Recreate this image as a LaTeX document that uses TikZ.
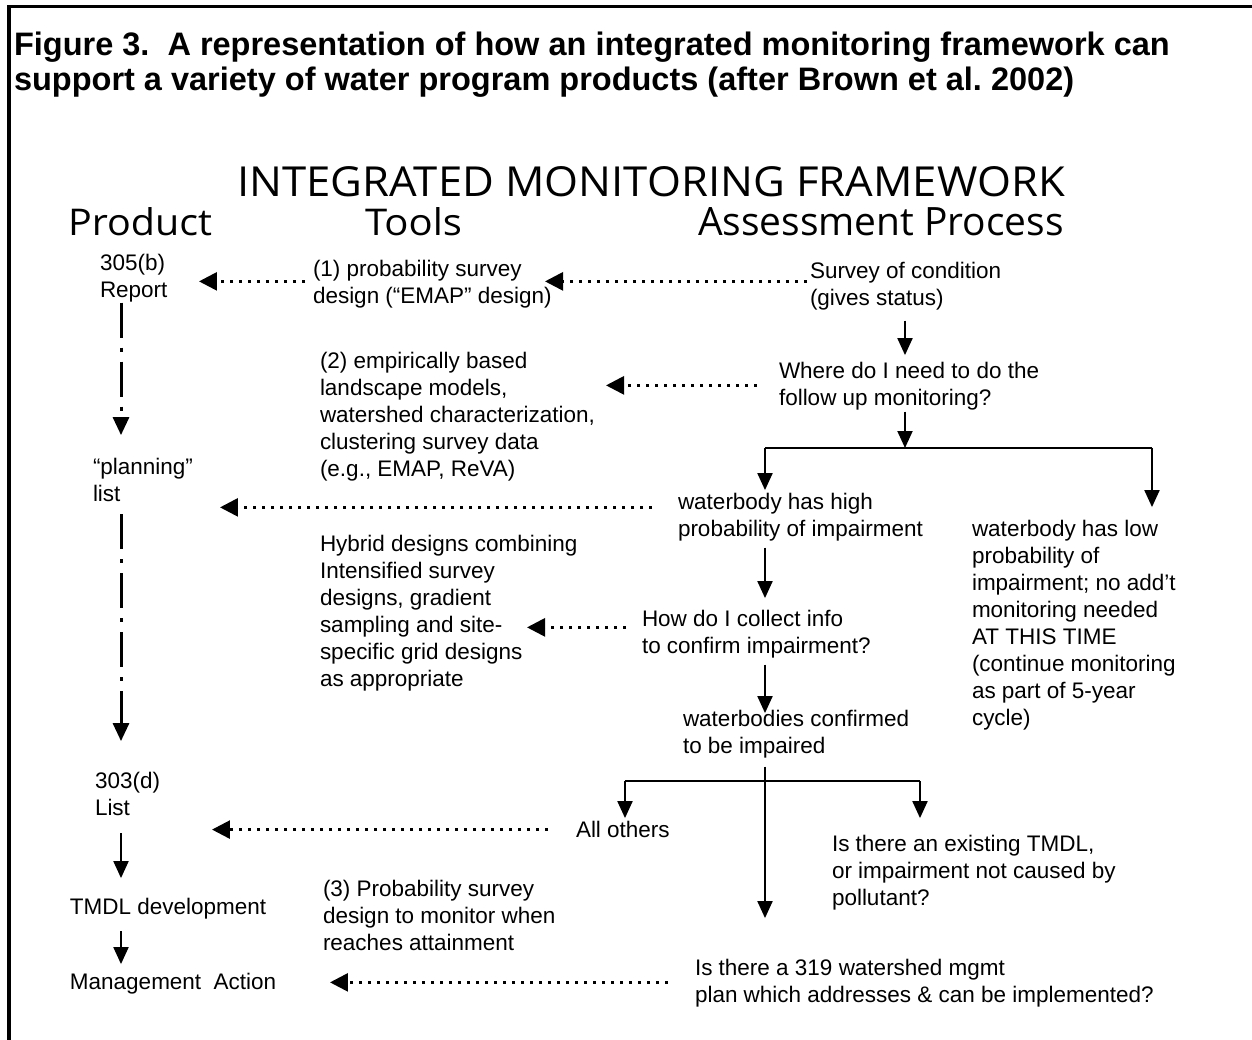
\documentclass[tikz,border=0pt]{standalone}
\usepackage{fontspec}
\usepackage{graphicx}
\setmainfont{Liberation Sans}
\newfontfamily\headfont{Open Sans}
\usetikzlibrary{arrows.meta,calc}
\frenchspacing
\begin{document}
\begin{tikzpicture}[x=0.02cm,y=-0.02cm,
  txt/.style={anchor=north west,inner sep=0pt,outer sep=0pt,align=left,
    font=\fontsize{12.8pt}{15.36pt}\selectfont,yshift=0.378cm},
  ttlstyle/.style={anchor=north west,inner sep=0pt,outer sep=0pt,align=left,
    font=\fontsize{18.5pt}{19.9pt}\selectfont\bfseries,yshift=0.49cm},
  head/.style={anchor=base west,inner sep=0pt,outer sep=0pt},
  arr/.style={line width=0.04cm,-{Triangle[width=0.3cm,length=0.34cm]}},
  ln/.style={line width=0.04cm},
  dotarr/.style={line width=0.055cm,dash pattern=on 0.055cm off 0.125cm,
    -{Triangle[width=0.36cm,length=0.36cm]}},
  dd/.style={line width=0.06cm,dash pattern=on 0.7cm off 0.2cm on 0.08cm off 0.2cm,
    -{Triangle[width=0.32cm,length=0.36cm]}}]
\fill[white] (0,0) rectangle (1252,1040);
\path[use as bounding box] (0,0) rectangle (1252,1040);
% frame
\draw[line width=0.07cm] (9,1040) -- (9,6.5) -- (1252,6.5);
% title
\node[ttlstyle] (title) at (14,56) {\strut Figure 3.\ \ A representation of how an integrated monitoring framework can\\support a variety of water program products (after Brown et al. 2002)};
% headings
\node[head] (imf) at (237,197) {\resizebox{16.56cm}{0.6cm}{\headfont INTEGRATED MONITORING FRAMEWORK}};
\node[head] (hprod) at (68,236) {\resizebox{2.88cm}{0.56cm}{\headfont Product}};
\node[head] (htools) at (365,236) {\resizebox{1.94cm}{0.56cm}{\headfont Tools}};
\node[head] (hass) at (698,236) {\resizebox{7.32cm}{0.56cm}{\headfont Assessment Process}};
% product column
\node[txt] (p305) at (100,271) {\strut 305(b)\\Report};
\node[txt] (plan) at (93,475) {\strut “planning”\\list};
\node[txt] (p303) at (95,789) {\strut 303(d)\\List};
\node[txt] (tmdl) at (70,915) {\strut TMDL development};
\node[txt] (mgmt) at (70,990) {\strut Management~~Action};
% tools column
\node[txt] (t1) at (313,277) {\strut (1) probability survey\\design (“EMAP” design)};
\node[txt] (t2) at (320,369) {\strut (2) empirically based\\landscape models,\\watershed characterization,\\clustering survey data\\(e.g., EMAP, ReVA)};
\node[txt] (hyb) at (320,552) {\strut Hybrid designs combining\\Intensified survey\\designs, gradient\\sampling and site-\\specific grid designs\\as appropriate};
\node[txt] (t3) at (323,897) {\strut (3) Probability survey\\design to monitor when\\reaches attainment};
% assessment column
\node[txt] (surv) at (810,279) {\strut Survey of condition\\(gives status)};
\node[txt] (where) at (779,379) {\strut Where do I need to do the\\follow up monitoring?};
\node[txt] (high) at (678,510) {\strut waterbody has high\\probability of impairment};
\node[txt] (low) at (972,537) {\strut waterbody has low\\probability of\\impairment; no add’t\\monitoring needed\\AT THIS TIME\\(continue monitoring\\as part of 5-year\\cycle)};
\node[txt] (how) at (642,627) {\strut How do I collect info\\to confirm impairment?};
\node[txt] (conf) at (683,727) {\strut waterbodies confirmed\\to be impaired};
\node[txt] (others) at (576,838) {\strut All others};
\node[txt] (tmdlq) at (832,852) {\strut Is there an existing TMDL,\\or impairment not caused by\\pollutant?};
\node[txt] (q319) at (695,976) {\strut Is there a 319 watershed mgmt\\plan which addresses \& can be implemented?};
% junction points
\coordinate (sp) at (905,448);
\coordinate (spL) at (765,448);
\coordinate (spR) at (1152,448);
\coordinate (jL) at (625,781);
\coordinate (jR) at (920,781);
% product column connectors
\draw[dd] ($(p305.south west)+(21,0)$) -- ($(plan.north west)+(28,-21)$);
\draw[dd] ($(plan.south west)+(28,12)$) -- ($(p303.north west)+(26,-29)$);
\draw[arr] ($(p303.south west)+(26,17)$) -- ($(tmdl.north west)+(51,-18)$);
\draw[arr] ($(tmdl.south west)+(51,8)$) -- ($(mgmt.north west)+(51,-7)$);
% assessment connectors
\draw[arr] ($(surv.south west)+(95,10)$) -- ($(where.north west)+(126,-5)$);
\draw[arr] ($(where.south west)+(126,1)$) -- (sp);
\draw[ln] (spL) -- (spR);
\draw[arr] (spL) -- ($(high.north west)+(87,-1)$);
\draw[arr] (spR) -- ($(low.north west)+(180,-11)$);
\draw[arr] ($(high.south west)+(87,6)$) -- ($(how.north west)+(123,-10)$);
\draw[arr] ($(how.south west)+(123,6)$) -- ($(conf.north west)+(82,5)$);
\draw[arr] ($(conf.south west)+(82,8)$) -- ($(q319.north west)+(70,-39)$);
\draw[ln] (jL) -- (jR);
\draw[arr] (jL) -- ($(others.north west)+(49,-1)$);
\draw[arr] (jR) -- ($(tmdlq.north west)+(88,-15)$);
% dotted connectors
\draw[dotarr] ($(t1.west)+(-8,-2)$) -- ($(t1.west -| p305.west)+(99,-2)$);
\draw[dotarr] ($(surv.west)+(-3,-4)$) -- ($(surv.west -| t1.west)+(232,-4)$);
\draw[dotarr] ($(where.west)+(-22,0)$) -- ($(where.west -| t2.west)+(286,0)$);
\draw[dotarr] ($(high.west)+(-26,-9)$) -- ($(high.west -| plan.west)+(127,-9)$);
\draw[dotarr] ($(how.west)+(-16,-6)$) -- ($(how.west -| hyb.west)+(207,-6)$);
\draw[dotarr] ($(others.west)+(-28,-3)$) -- ($(others.west -| p303.west)+(117,-3)$);
\draw[dotarr] ($(q319.west)+(-27,0)$) -- ($(q319.west -| mgmt.west)+(260,0)$);
\end{tikzpicture}
\end{document}
